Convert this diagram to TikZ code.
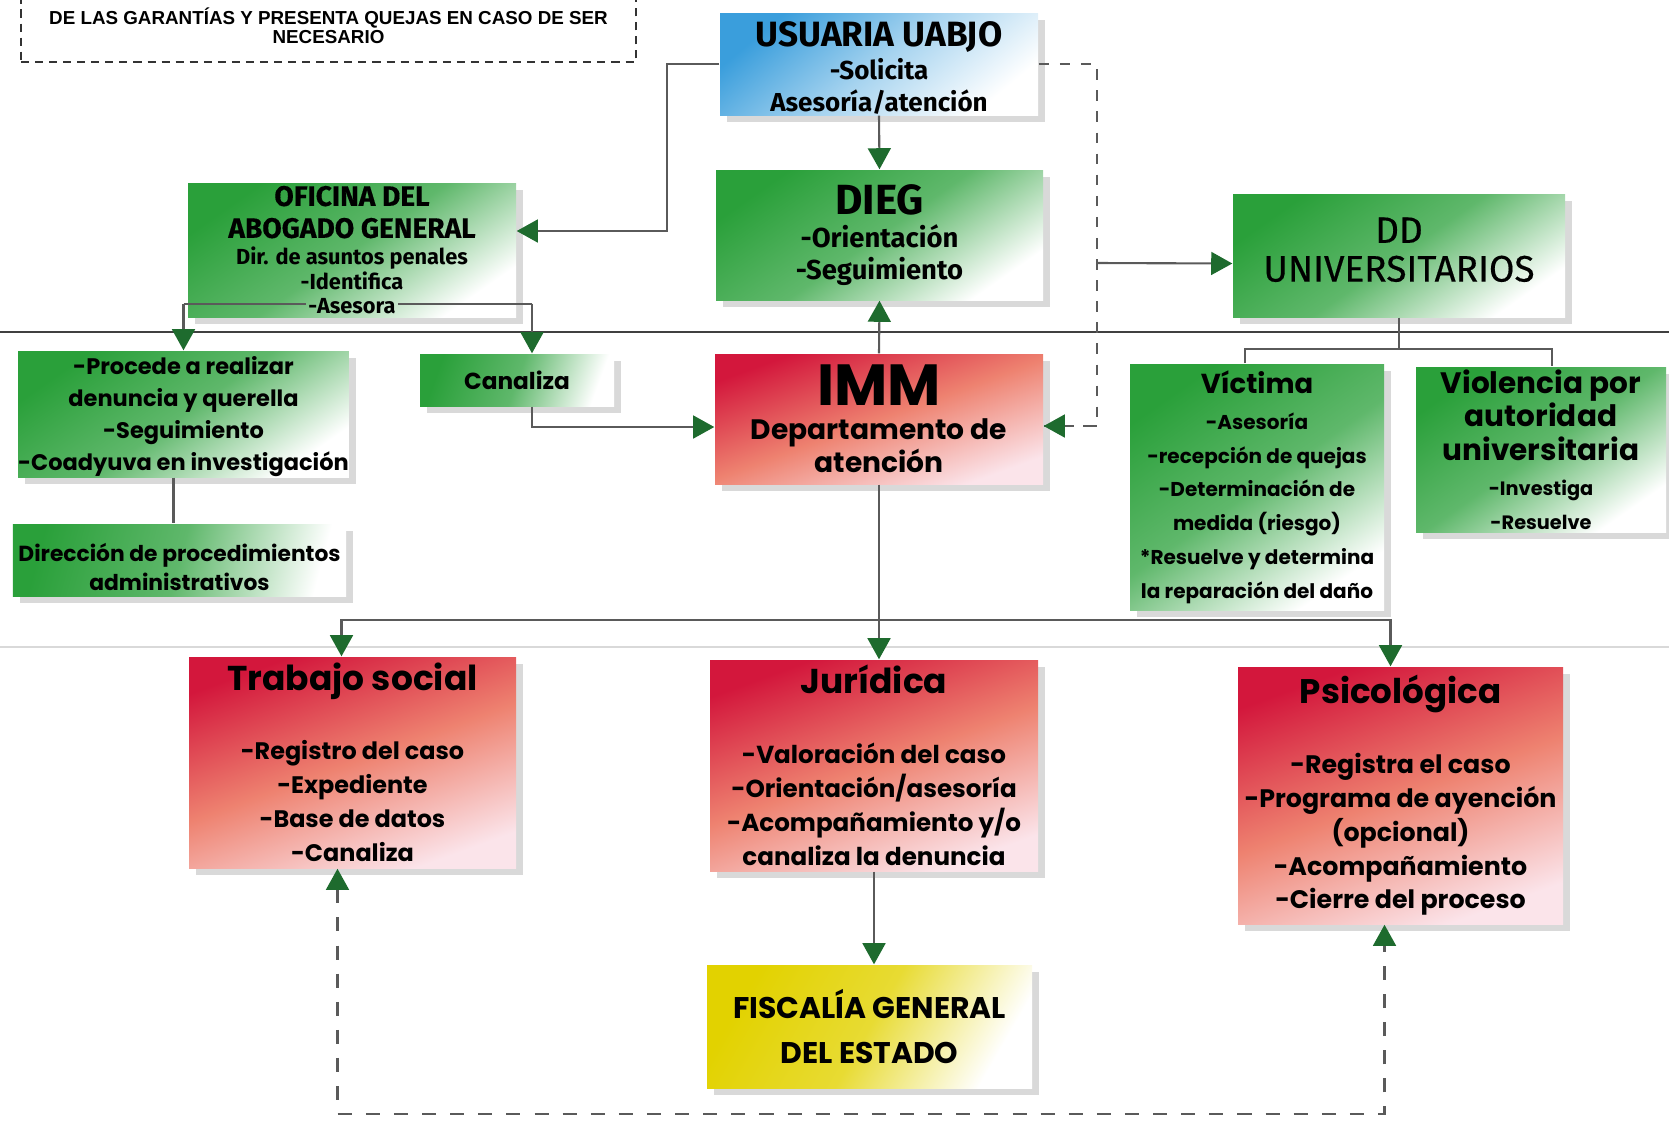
\documentclass[tikz,border=0pt]{standalone}
\usepackage{fontspec}
\setmainfont{Poppins}
\newfontfamily\dinfont{Fira Sans}
\newfontfamily\dinmed{Fira Sans}[FakeBold=0.4]
\newfontfamily\arialfont{Liberation Sans}
\usetikzlibrary{arrows.meta,shadows,positioning}

\definecolor{boxgreen}{HTML}{2AA03A}
\definecolor{boxblue}{HTML}{3A9EDC}
\definecolor{boxred}{HTML}{D3173C}
\definecolor{boxsalmon}{HTML}{EE8270}
\definecolor{boxpink}{HTML}{FBE4EA}
\definecolor{boxyellow}{HTML}{E2D200}
\definecolor{arrowgreen}{HTML}{1E6B2E}
\definecolor{linegray}{HTML}{5A5A5A}

\tikzset{
  gtip/.tip={Triangle[length=6pt,width=6.5pt,color=arrowgreen]},
  box/.style={rectangle, align=center, inner sep=0pt,
    drop shadow={opacity=0.3,shadow xshift=0.7mm,shadow yshift=-0.7mm}},
  greenbox/.style={box, top color=boxgreen, bottom color=white, middle color=boxgreen!75!white, shading angle=35},
  bluebox/.style={box, top color=boxblue, bottom color=white, middle color=boxblue!45!white, shading angle=40},
  redbox/.style={box, top color=boxred, bottom color=boxpink, middle color=boxsalmon, shading angle=20},
  yellowbox/.style={box, top color=boxyellow, bottom color=white, middle color=boxyellow!80!white, shading angle=60},
  notebox/.style={draw=black!80, dash pattern=on 2.3pt off 1.7pt, line width=0.6pt, align=center, inner sep=0pt},
  link/.style={draw=linegray, line width=0.6pt},
  arr/.style={link, -gtip},
  dlink/.style={link, dash pattern=on 4pt off 4pt},
}

\begin{document}
\begin{tikzpicture}
\useasboundingbox (0,0) rectangle (16.69,-11.28);
\clip (0,0) rectangle (16.69,-11.28);

% fold of the scanned sheet
\draw[line width=0.6pt, black!75] (0,-3.32) -- (16.69,-3.32);
\draw[line width=0.5pt, black!15] (0,-6.47) -- (16.69,-6.47);

\node[notebox, minimum width=6.15cm, minimum height=0.72cm,
  font=\arialfont\bfseries\fontsize{5.35}{5.4}\selectfont] (nota) at (3.285,-0.26)
  {DE LAS GARANTÍAS Y PRESENTA QUEJAS EN CASO DE SER\\NECESARIO};

\node[bluebox, minimum width=3.18cm, minimum height=1.02cm,
  font=\dinfont\bfseries\fontsize{7.4}{9}\selectfont] (usuaria) at (8.79,-0.64)
  {\rule{0pt}{9.3pt}{\fontsize{10}{11}\selectfont USUARIA UABJO}\\[0.5pt]-Solicita\\Asesoría/atención};

\node[greenbox, minimum width=3.27cm, minimum height=1.3cm,
  font=\dinfont\bfseries\fontsize{7.8}{9.1}\selectfont] (dieg) at (8.795,-2.35)
  {{\fontsize{12}{13}\selectfont DIEG}\\[0.2pt]-Orientación\\-Seguimiento};

\node[greenbox, minimum width=3.28cm, minimum height=1.34cm,
  font=\dinfont\bfseries\fontsize{6.2}{7.2}\selectfont] (oficina) at (3.52,-2.5)
  {{\dinmed\fontsize{8}{9}\selectfont OFICINA DEL}\\[1.9pt]{\dinmed\fontsize{8}{9}\selectfont ABOGADO GENERAL}\\[0.3pt]Dir. de asuntos penales\\-Identifica\\[-0.3pt]-Asesora};

\node[greenbox, minimum width=3.32cm, minimum height=1.23cm,
  font=\dinmed\fontsize{10.5}{11}\selectfont] (dd) at (13.99,-2.555)
  {DD\\UNIVERSITARIOS\rule[-3.4pt]{0pt}{0pt}};

\node[greenbox, minimum width=3.29cm, minimum height=1.26cm,
  font=\bfseries\fontsize{6.4}{9.1}\selectfont] (procede) at (1.835,-4.14)
  {\rule{0pt}{6.6pt}-Procede a realizar\\denuncia y querella\\-Seguimiento\\-Coadyuva en investigación};

\node[greenbox, shading angle=70, minimum width=1.94cm, minimum height=0.52cm,
  font=\bfseries\fontsize{6.6}{8}\selectfont] (canaliza) at (5.17,-3.8) {Canaliza};

\node[redbox, minimum width=3.28cm, minimum height=1.3cm,
  font=\bfseries\fontsize{8}{9.4}\selectfont] (imm) at (8.79,-4.19)
  {{\fontsize{16.5}{17}\selectfont IMM}\\[0.3pt]Departamento de\\atención};

\node[greenbox, shading angle=75, minimum width=3.33cm, minimum height=0.72cm,
  font=\bfseries\fontsize{6.2}{8.2}\selectfont] (direccion) at (1.795,-5.6)
  {\rule{0pt}{9pt}Dirección de procedimientos\\administrativos};

\node[greenbox, minimum width=2.54cm, minimum height=2.46cm,
  font=\bfseries\fontsize{5.7}{9.6}\selectfont] (victima) at (12.57,-4.87)
  {{\fontsize{7.8}{9}\selectfont Víctima}\\[0.6pt]-Asesoría\\-recepción de quejas\\-Determinación de\\medida (riesgo)\\*Resuelve y determina\\la reparación del daño};

\node[greenbox, minimum width=2.5cm, minimum height=1.65cm,
  font=\bfseries\fontsize{5.5}{9.5}\selectfont] (violencia) at (15.41,-4.495)
  {{\fontsize{8.4}{9}\selectfont Violencia por}\\{\fontsize{8.4}{9}\selectfont autoridad}\\{\fontsize{8.4}{9}\selectfont universitaria}\\[0.6pt]-Investiga\\-Resuelve};

\node[redbox, minimum width=3.27cm, minimum height=2.11cm,
  font=\bfseries\fontsize{6.8}{9.7}\selectfont] (trabajo) at (3.525,-7.625)
  {{\fontsize{9.8}{10}\selectfont Trabajo social}\\[10pt]-Registro del caso\\-Expediente\\-Base de datos\\-Canaliza};

\node[redbox, minimum width=3.28cm, minimum height=2.11cm,
  font=\bfseries\fontsize{7}{9.7}\selectfont] (juridica) at (8.74,-7.655)
  {{\fontsize{9.8}{10}\selectfont Jurídica}\\[10pt]-Valoración del caso\\-Orientación/asesoría\\-Acompañamiento y/o\\canaliza la denuncia};

\node[redbox, minimum width=3.25cm, minimum height=2.57cm,
  font=\bfseries\fontsize{7.2}{9.6}\selectfont] (psico) at (14.005,-7.955)
  {{\fontsize{9.7}{10}\selectfont Psicológica}\\[10.3pt]-Registra el caso\\-Programa de ayención\\(opcional)\\-Acompañamiento\\-Cierre del proceso};

\node[yellowbox, minimum width=3.25cm, minimum height=1.23cm,
  font=\bfseries\fontsize{8.5}{12.8}\selectfont] (fiscalia) at (8.695,-10.265)
  {FISCALÍA GENERAL\\DEL ESTADO};

% connectors
\draw[arr] (usuaria.west) -- ++(-0.52,0) |- ([yshift=1.9mm]oficina.east);
\draw[arr] (usuaria.south) -- (dieg.north);
\draw[dlink, dash pattern=on 3pt off 3pt] (usuaria.east) -- ++(0.58,0) coordinate (dk) |- ([yshift=-0.07cm]imm.east);
\draw[dlink, -gtip] ([yshift=-0.07cm]imm.east -| dk) -- ([yshift=-0.07cm]imm.east);
\draw[arr] (dk |- 0,-2.63) -- ([yshift=-0.08cm]dd.west);
\draw[arr] (imm.north) -- (dieg.south);

\coordinate (ofb) at ([yshift=0.14cm]oficina.south);
\draw[link] (procede.north |- ofb) -- ([xshift=-0.46cm]ofb);
\draw[link] ([xshift=0.46cm]ofb) -- ([xshift=0.15cm]canaliza.north |- ofb);
\draw[arr] (procede.north |- ofb) -- (procede.north);
\draw[arr] ([xshift=0.15cm]canaliza.north |- ofb) -- ([xshift=0.15cm]canaliza.north);
\draw[arr] ([xshift=0.15cm]canaliza.south) |- ([yshift=-0.08cm]imm.west);
\draw[link] ([xshift=-0.06cm]direccion.north |- procede.south) -- ([xshift=-0.06cm]direccion.north);

\coordinate (ddb) at ([yshift=-0.31cm]dd.south);
\draw[link] (dd.south) -- (ddb);
\draw[link] ([xshift=-0.12cm]victima.north) |- (ddb) -| ([xshift=0.11cm]violencia.north);

\coordinate (immb) at (imm.south |- 0,-6.2);
\draw[arr] (imm.south) -- (imm.south |- juridica.north);
\draw[arr] (immb) -| ([xshift=-0.11cm]trabajo.north);
\draw[arr] (immb) -| ([xshift=-0.1cm]psico.north);
\draw[arr] (juridica.south) -- (juridica.south |- fiscalia.north);

\draw[dlink, gtip-gtip] ([xshift=-0.15cm]trabajo.south) -- ([xshift=-0.15cm]trabajo.south |- 0,-11.14) -| ([xshift=-0.16cm]psico.south);
\end{tikzpicture}
\end{document}
